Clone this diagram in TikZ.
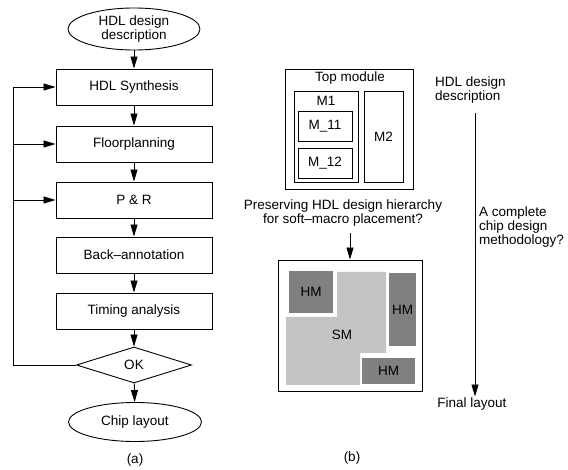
\documentclass[tikz,border=0pt]{standalone}
\usepackage{fontspec}
\setmainfont{Liberation Sans}
\usetikzlibrary{shapes.geometric,arrows.meta}

\definecolor{softgray}{HTML}{C4C4C4}
\definecolor{hardgray}{HTML}{808080}

\tikzset{
  lbl/.style={font=\fontsize{13.5}{14}\selectfont, inner sep=1pt},
  stepbox/.style={draw, line width=0.9pt, minimum width=156pt, minimum height=36pt,
    inner sep=0pt, font=\fontsize{13.5}{14}\selectfont},
  terminal/.style={draw, ellipse, line width=0.9pt, inner sep=0pt,
    font=\fontsize{13.5}{14}\selectfont, align=center},
  decision/.style={draw, diamond, line width=0.9pt, inner sep=0pt,
    minimum width=115pt, minimum height=36pt, font=\fontsize{13.5}{14}\selectfont},
  modbox/.style={draw, line width=0.8pt, inner sep=0pt},
  flow/.style={line width=0.8pt, -{Triangle[length=12pt,width=7pt]}},
  plain/.style={line width=0.8pt},
  hm/.style={fill=hardgray, draw=none, inner sep=0pt, font=\fontsize{13.5}{14}\selectfont},
}

\begin{document}
\begin{tikzpicture}[x=1pt, y=-1pt]
\useasboundingbox (0,0) rectangle (568,470);

% ---- (a) design flow ----
\node[terminal, minimum width=132pt, minimum height=42pt] (hdl) at (134,29) {HDL design\\description};
\node[stepbox] (synth) at (134,87)  {HDL Synthesis};
\node[stepbox] (floor) at (134,144) {Floorplanning};
\node[stepbox] (pr)    at (134,200) {P \& R};
\node[stepbox] (back)  at (134,255) {Back\textendash annotation};
\node[stepbox] (time)  at (134,311) {Timing analysis};
\node[decision] (ok)   at (134,365) {OK};
\node[terminal, minimum width=133pt, minimum height=39pt] (chip) at (135,422) {Chip layout};
\node[lbl] (capa) at (135,460) {(a)};

\draw[flow] (hdl) -- (synth);
\draw[flow] (synth) -- (floor);
\draw[flow] (floor) -- (pr);
\draw[flow] (pr) -- (back);
\draw[flow] (back) -- (time);
\draw[flow] (time) -- (ok);
\draw[flow] (ok) -- (chip);

% feedback loop from the decision back to the first three steps
\coordinate (fbbot) at (13,365);
\coordinate (fbtop) at (13,87);
\draw[plain] (ok.west) -- (fbbot) -- (fbtop);
\draw[flow] (fbtop) -- (synth.west);
\draw[flow] (fbtop |- floor.west) -- (floor.west);
\draw[flow] (fbtop |- pr.west) -- (pr.west);

% ---- (b) hierarchy and placement ----
\node[modbox, minimum width=128pt, minimum height=120pt] (top) at (349,129) {};
\node[lbl] (toplbl) at (350,78) {Top module};
\node[modbox, minimum width=64pt, minimum height=91pt] (m1) at (326,136.5) {};
\node[lbl] (m1lbl) at (326,101) {M1};
\node[modbox, minimum width=54pt, minimum height=30pt, font=\fontsize{13.5}{14}\selectfont] (m11) at (325,126) {M\_11};
\node[modbox, minimum width=54pt, minimum height=30pt, font=\fontsize{13.5}{14}\selectfont] (m12) at (325,163) {M\_12};
\node[modbox, minimum width=39pt, minimum height=91pt, font=\fontsize{13.5}{14}\selectfont] (m2) at (383.5,136.5) {M2};

\node[lbl, align=center] (preserve) at (343,213) {Preserving HDL design hierarchy\\for soft\textendash macro placement?};

\node[draw, line width=0.9pt, minimum width=144pt, minimum height=131pt, inner sep=0pt] (layout) at (350,325.5) {};
\draw[flow] (preserve.south -| layout.north) ++(0,6) -- (layout.north);

% soft macro region
\fill[softgray] (337,272) -- (386,272) -- (386,353) -- (360,353) -- (360,385)
  -- (286,385) -- (286,317) -- (337,317) -- cycle;
\node[lbl] (sm) at (342,335) {SM};
% hard macros
\node[hm, minimum width=44pt, minimum height=42pt] (hm1) at (311,292) {HM};
\node[hm, minimum width=27pt, minimum height=73pt] (hm2) at (402.5,309.5) {HM};
\node[hm, minimum width=53pt, minimum height=26pt] (hm3) at (388.5,371) {HM};

\node[lbl] (capb) at (352,458) {(b)};

% methodology axis
\node[lbl, align=left, anchor=west] (start) at (434,90) {HDL design\\description};
\node[lbl, align=left, anchor=west] (question) at (478,227) {A complete\\chip design\\methodology?};
\node[lbl] (final) at (472,404) {Final layout};
\coordinate (axistop) at (475,113);
\draw[flow] (axistop) -- (axistop |- final.north);
\end{tikzpicture}
\end{document}
